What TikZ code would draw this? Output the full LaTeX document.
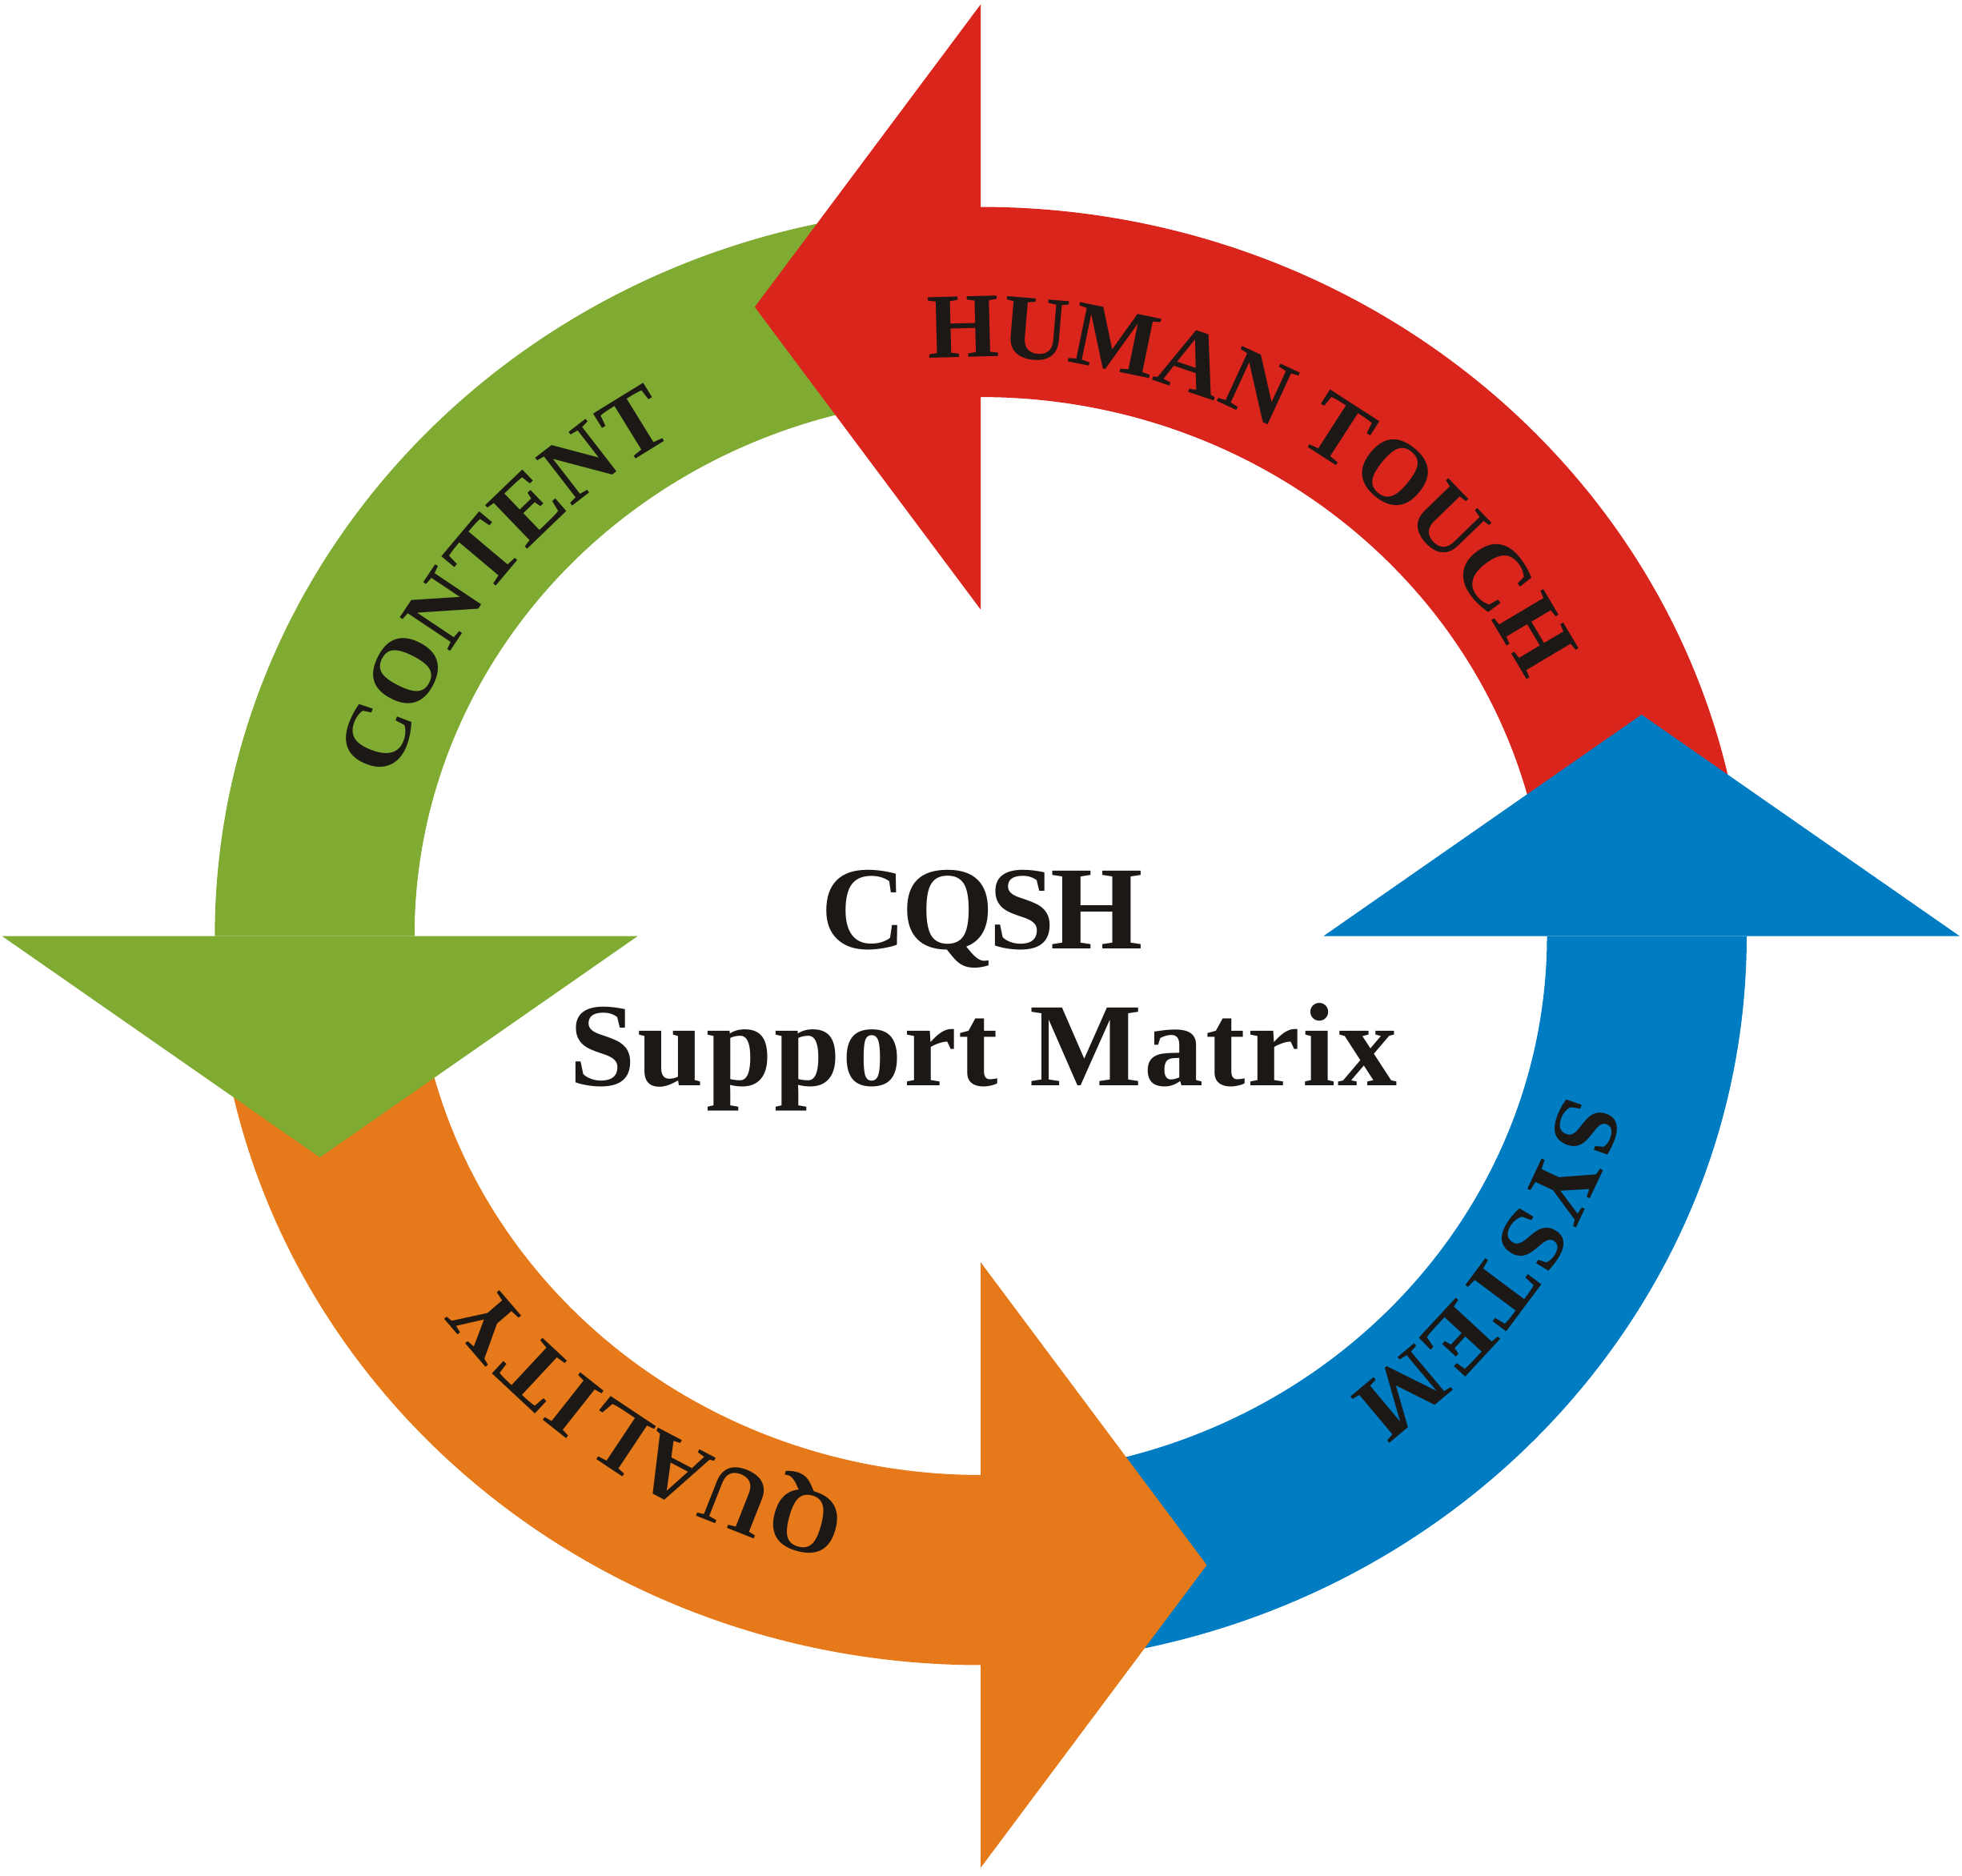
\documentclass[tikz,border=0pt]{standalone}
\usepackage{fontspec}
\setmainfont{Liberation Serif}
\usetikzlibrary{decorations.text}
\definecolor{humanred}{RGB}{218,37,29}
\definecolor{contentgreen}{RGB}{128,171,50}
\definecolor{qualityorange}{RGB}{230,121,25}
\definecolor{systemblue}{RGB}{0,124,195}
\definecolor{inkblack}{RGB}{28,24,22}
\newcommand{\ringfont}{\fontsize{21}{25}\selectfont\bfseries}

\begin{document}
\begin{tikzpicture}[x=0.0105cm,y=0.01cm,
		ringlabel/.style={decorate, decoration={text along path, text align=center, text color=inkblack}},
		titletext/.style={anchor=base, text=inkblack, font=\fontsize{27}{32}\selectfont\bfseries}]
		%set diagram size: 1568 x 1500, centre of the ring at (0,0)
		\useasboundingbox (-746.5,-751.5) rectangle (746.9,748.5);
		
		%Shape: Arc [id:red band] 
		\fill[humanred] (6:583) arc[start angle=6, end angle=90, radius=583] -- (90:431) arc[start angle=90, end angle=6, radius=431] -- cycle ;
		%Shape: Arc [id:green band] 
		\fill[contentgreen] (96:583) arc[start angle=96, end angle=180, radius=583] -- (180:431) arc[start angle=180, end angle=96, radius=431] -- cycle ;
		%Shape: Arc [id:orange band] 
		\fill[qualityorange] (186:583) arc[start angle=186, end angle=270, radius=583] -- (270:431) arc[start angle=270, end angle=186, radius=431] -- cycle ;
		%Shape: Arc [id:blue band] 
		\fill[systemblue] (276:583) arc[start angle=276, end angle=360, radius=583] -- (0:431) arc[start angle=360, end angle=276, radius=431] -- cycle ;
		
		%Shape: Triangle [id:red head] 
		\fill[humanred] (0,261) -- (0,745) -- (-172,503) -- cycle ;
		%Shape: Triangle [id:green head] 
		\fill[contentgreen] (-261,0) -- (-745,0) -- (-503,-177) -- cycle ;
		%Shape: Triangle [id:orange head] 
		\fill[qualityorange] (0,-261) -- (0,-745) -- (172,-503) -- cycle ;
		%Shape: Triangle [id:blue head] 
		\fill[systemblue] (261,0) -- (745,0) -- (503,177) -- cycle ;
		
		% Text on arcs (equal x and y units here, so the letters are not sheared)
		\begin{scope}[x=0.01cm]
		\path[ringlabel, decoration={text={|\ringfont|HUMAN TOUCH}}] (120:486 and 463) arc[start angle=120, end angle=0, x radius=486, y radius=463] ;
		\path[ringlabel, decoration={text={|\ringfont|CONTENT}}] (203:486 and 463) arc[start angle=203, end angle=83, x radius=486, y radius=463] ;
		\path[ringlabel, decoration={text={|\ringfont|QUALITY}}] (296:486 and 463) arc[start angle=296, end angle=176, x radius=486, y radius=463] ;
		\path[ringlabel, decoration={text={|\ringfont|SYSTEM}}] (26.5:486 and 463) arc[start angle=26.5, end angle=-93.5, x radius=486, y radius=463] ;
		\end{scope}
		
		% Text Node
		\node[titletext] (cqsh) at (0.8,-10.5) {\addfontfeatures{LetterSpace=-4}CQSH};
		% Text Node
		\node[titletext] (supportmatrix) at (2.1,-119.5) {\addfontfeatures{LetterSpace=1.8}Support Matrix};
		
	\end{tikzpicture}
\end{document}
